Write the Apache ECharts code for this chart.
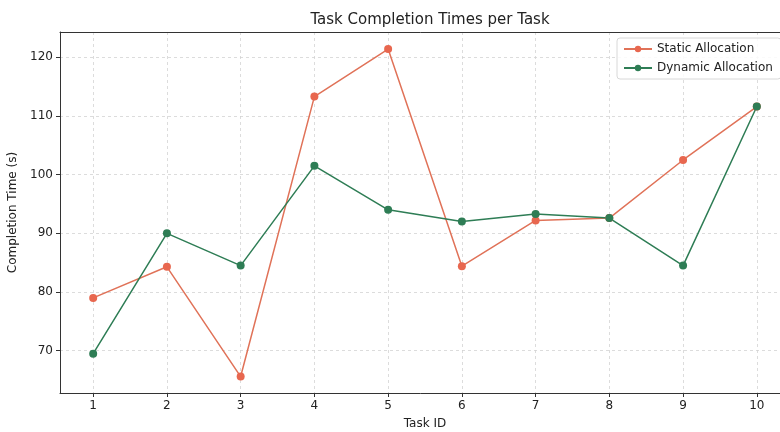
<!DOCTYPE html>
<html>
<head>
<meta charset="utf-8">
<script src="https://cdn.jsdelivr.net/npm/echarts@6/dist/echarts.min.js"></script>
<style>html,body{margin:0;padding:0;background:#fff}#c{width:780px;height:432px}</style>
</head>
<body>
<div id="c"></div>
<script>
var taskIds = [1, 2, 3, 4, 5, 6, 7, 8, 9, 10];
var staticAlloc = [79.0, 84.3, 65.6, 113.3, 121.4, 84.4, 92.2, 92.6, 102.5, 111.6];
var dynamicAlloc = [69.5, 90.0, 84.5, 101.5, 94.0, 92.0, 93.3, 92.6, 84.5, 111.6];
var yTicks = [70, 80, 90, 100, 110, 120];
var xTicks = [1, 2, 3, 4, 5, 6, 7, 8, 9, 10];

var FONT = 'DejaVu Sans';
var chart = echarts.init(document.getElementById('c'), null, {renderer: 'canvas'});
function pairs(xs, ys) { return xs.map(function (x, i) { return [x, ys[i]]; }); }
chart.setOption({
  animation: false,
  textStyle: {fontFamily: FONT},
  title: {
    text: 'Task Completion Times per Task',
    left: 425, top: 8, textAlign: 'center',
    textStyle: {fontFamily: FONT, fontSize: 15, fontWeight: 'normal', color: '#222'}
  },
  grid: {left: 60, right: -10, top: 32, bottom: 39, outerBoundsMode: 'none', containLabel: false, show: false},
  legend: {
    left: 617, top: 38, orient: 'vertical',
    itemWidth: 28, itemHeight: 8, itemGap: 7,
    padding: [5, 8, 5, 6],
    borderColor: '#d8d8d8', borderWidth: 1, borderRadius: 3,
    backgroundColor: 'rgba(255,255,255,0.85)',
    textStyle: {fontFamily: FONT, fontSize: 12, color: '#222'},
    data: ['Static Allocation', 'Dynamic Allocation']
  },
  xAxis: [{
    type: 'value', min: 0.55, max: 10.45,
    name: 'Task ID', nameLocation: 'middle', nameGap: 25,
    nameTextStyle: {fontFamily: FONT, fontSize: 12, color: '#222'},
    axisLine: {show: true, lineStyle: {color: '#333'}},
    axisTick: {show: true, length: 4, lineStyle: {color: '#333'}, customValues: xTicks},
    axisLabel: {fontFamily: FONT, fontSize: 12, color: '#222', margin: 7, customValues: xTicks},
    splitLine: {show: true, lineStyle: {color: '#d4d4d4', type: [3, 3], width: 0.8}}
  }, {
    type: 'value', position: 'top', min: 0.55, max: 10.45,
    axisLine: {show: true, onZero: false, lineStyle: {color: '#333'}},
    axisTick: {show: false}, axisLabel: {show: false}, splitLine: {show: false}
  }],
  yAxis: {
    type: 'value', min: 62.8, max: 124.3,
    name: 'Completion Time (s)', nameLocation: 'middle', nameGap: 34,
    nameTextStyle: {fontFamily: FONT, fontSize: 12, color: '#222'},
    axisLine: {show: true, lineStyle: {color: '#333'}},
    axisTick: {show: true, length: 4, lineStyle: {color: '#333'}, customValues: yTicks},
    axisLabel: {fontFamily: FONT, fontSize: 12, color: '#222', margin: 7, customValues: yTicks},
    splitLine: {show: true, lineStyle: {color: '#d4d4d4', type: [3, 3], width: 0.8}}
  },
  series: [
    {
      name: 'Static Allocation', type: 'line',
      data: pairs(taskIds, staticAlloc),
      symbol: 'circle', symbolSize: 8,
      lineStyle: {color: '#E07258', width: 1.5},
      itemStyle: {color: '#E8674F'}
    },
    {
      name: 'Dynamic Allocation', type: 'line',
      data: pairs(taskIds, dynamicAlloc),
      symbol: 'circle', symbolSize: 8,
      lineStyle: {color: '#2E7D55', width: 1.5},
      itemStyle: {color: '#2E7D55'}
    }
  ]
});
</script>
</body>
</html>
